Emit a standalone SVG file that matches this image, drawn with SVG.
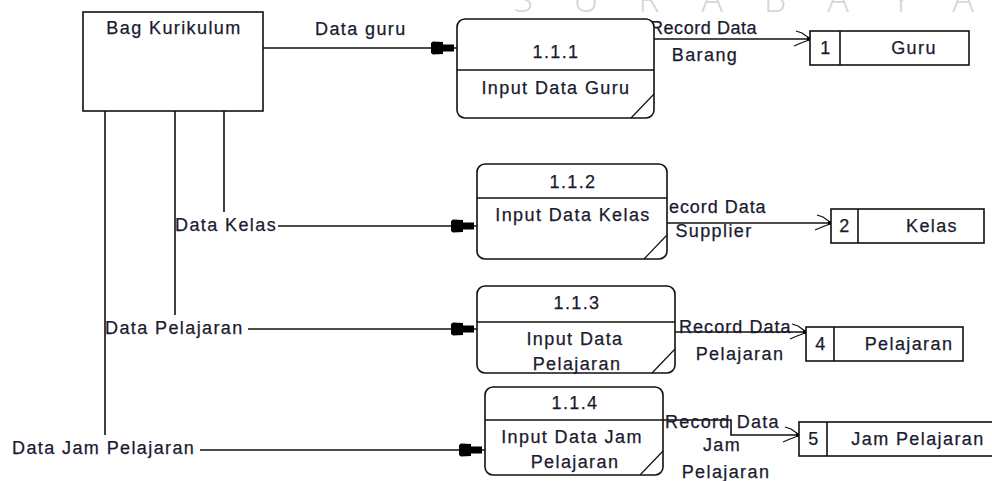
<svg xmlns="http://www.w3.org/2000/svg" width="992" height="481" viewBox="0 0 992 481">
<defs>
<style>
.ln{stroke:#111;stroke-width:1.6;fill:none}
.bx{fill:#fff;stroke:#111;stroke-width:1.6}
.fd{stroke:#111;stroke-width:1.2;fill:none}
.t{font-family:"Liberation Sans",Arial,sans-serif;font-size:18px;letter-spacing:1.4px;fill:#1a1a30;stroke:#1a1a30;stroke-width:0.25}
.c{text-anchor:middle}
.wm{font-family:"Open Sans","Liberation Sans",sans-serif;font-weight:300;font-size:36px;fill:#d6d6d6;text-anchor:middle}
</style>
<marker id="inArrow" markerUnits="userSpaceOnUse" viewBox="-27 -7 28 14" refX="0" refY="0" markerWidth="28" markerHeight="14" orient="auto">
<path d="M-26,-5 L-24,-6.5 L-14,-6 L-14,-3.5 L-3,-3.5 L-3,3.5 L-14,3.5 L-14,6 L-24,6.5 L-26,5 Z" fill="#000"/>
</marker>
<marker id="openArrow" markerUnits="userSpaceOnUse" viewBox="-18 -10 20 20" refX="0" refY="0" markerWidth="20" markerHeight="20" orient="auto">
<path d="M-14,-8 L-8,-6 L-1,-1 M-16,7 L-9,4 L-1,1" stroke="#111" stroke-width="1.3" fill="none"/>
<rect x="-3" y="-1.8" width="3.6" height="3.6" fill="#000"/>
</marker>
</defs>
<rect width="992" height="481" fill="#fff"/>
<g id="watermark">
<text class="wm" x="523" y="12">S</text>
<text class="wm" x="586" y="12">U</text>
<text class="wm" x="649" y="12">R</text>
<text class="wm" x="712" y="12">A</text>
<text class="wm" x="775" y="12">B</text>
<text class="wm" x="838" y="12">A</text>
<text class="wm" x="901" y="12">Y</text>
<text class="wm" x="963" y="12">A</text>
</g>
<g id="connectors">
<path class="ln" d="M105,111 V435"/>
<path class="ln" d="M175,111 V315"/>
<path class="ln" d="M224,111 V212"/>
<path class="ln" d="M263,48 H457" marker-end="url(#inArrow)"/>
<path class="ln" d="M278,226 H477" marker-end="url(#inArrow)"/>
<path class="ln" d="M248,329 H477" marker-end="url(#inArrow)"/>
<path class="ln" d="M200,450 H485" marker-end="url(#inArrow)"/>
<path class="ln" d="M654,39 H810" marker-end="url(#openArrow)"/>
<path class="ln" d="M667,223 H831" marker-end="url(#openArrow)"/>
<path class="ln" d="M675,332 H806" marker-end="url(#openArrow)"/>
<path class="ln" d="M663,420 H731 V435 H799" marker-end="url(#openArrow)"/>
<text class="t" x="315" y="35">Data guru</text>
<text class="t" x="175" y="231">Data Kelas</text>
<text class="t" x="105" y="334">Data Pelajaran</text>
<text class="t" x="12" y="454">Data Jam Pelajaran</text>
<text class="t" x="650" y="34" textLength="108" lengthAdjust="spacing">Record Data</text>
<text class="t c" x="705" y="61">Barang</text>
<text class="t" x="655" y="213" textLength="112" lengthAdjust="spacing">Record Data</text>
<text class="t c" x="714" y="237">Supplier</text>
<text class="t" x="679" y="333" textLength="113" lengthAdjust="spacing">Record Data</text>
<text class="t c" x="740" y="360">Pelajaran</text>
<text class="t" x="665" y="428" textLength="115" lengthAdjust="spacing">Record Data</text>
<text class="t c" x="722" y="451">Jam</text>
<text class="t c" x="726" y="478">Pelajaran</text>
</g>
<g id="bag-kurikulum">
<rect class="bx" x="83" y="12" width="180" height="99"/>
<text class="t c" x="174" y="34">Bag Kurikulum</text>
</g>
<g id="p111">
<rect class="bx" x="457" y="19" width="197" height="99" rx="8"/>
<path class="ln" d="M457,70 H654"/>
<path class="fd" d="M631,118 L654,94"/>
<text class="t c" x="556" y="58">1.1.1</text>
<text class="t c" x="556" y="94">Input Data Guru</text>
</g>
<g id="p112">
<rect class="bx" x="477" y="164" width="190" height="95" rx="8"/>
<path class="ln" d="M477,198 H667"/>
<path class="fd" d="M644,259 L667,235"/>
<text class="t c" x="573" y="188">1.1.2</text>
<text class="t c" x="573" y="221">Input Data Kelas</text>
</g>
<g id="p113">
<rect class="bx" x="477" y="286" width="198" height="87" rx="8"/>
<path class="ln" d="M477,322 H675"/>
<path class="fd" d="M652,373 L675,349"/>
<text class="t c" x="577" y="309">1.1.3</text>
<text class="t c" x="575" y="345">Input Data</text>
<text class="t c" x="577" y="370">Pelajaran</text>
</g>
<g id="p114">
<rect class="bx" x="485" y="387" width="178" height="88" rx="8"/>
<path class="ln" d="M485,420 H663"/>
<path class="fd" d="M640,475 L663,451"/>
<text class="t c" x="575" y="409">1.1.4</text>
<text class="t c" x="572" y="443">Input Data Jam</text>
<text class="t c" x="575" y="468">Pelajaran</text>
</g>
<g id="store1">
<rect class="bx" x="810" y="31" width="159" height="34"/>
<path class="ln" d="M840,31 V65"/>
<text class="t c" x="826" y="54">1</text>
<text class="t c" x="914" y="54">Guru</text>
</g>
<g id="store2">
<rect class="bx" x="831" y="209" width="153" height="34"/>
<path class="ln" d="M858,209 V243"/>
<text class="t c" x="845" y="232">2</text>
<text class="t c" x="932" y="232">Kelas</text>
</g>
<g id="store4">
<rect class="bx" x="806" y="327" width="157" height="34"/>
<path class="ln" d="M834,327 V361"/>
<text class="t c" x="821" y="350">4</text>
<text class="t c" x="909" y="350">Pelajaran</text>
</g>
<g id="store5">
<rect class="bx" x="799" y="422" width="196" height="34"/>
<path class="ln" d="M827,422 V456"/>
<text class="t c" x="814" y="445">5</text>
<text class="t c" x="918" y="445">Jam Pelajaran</text>
</g>
</svg>
